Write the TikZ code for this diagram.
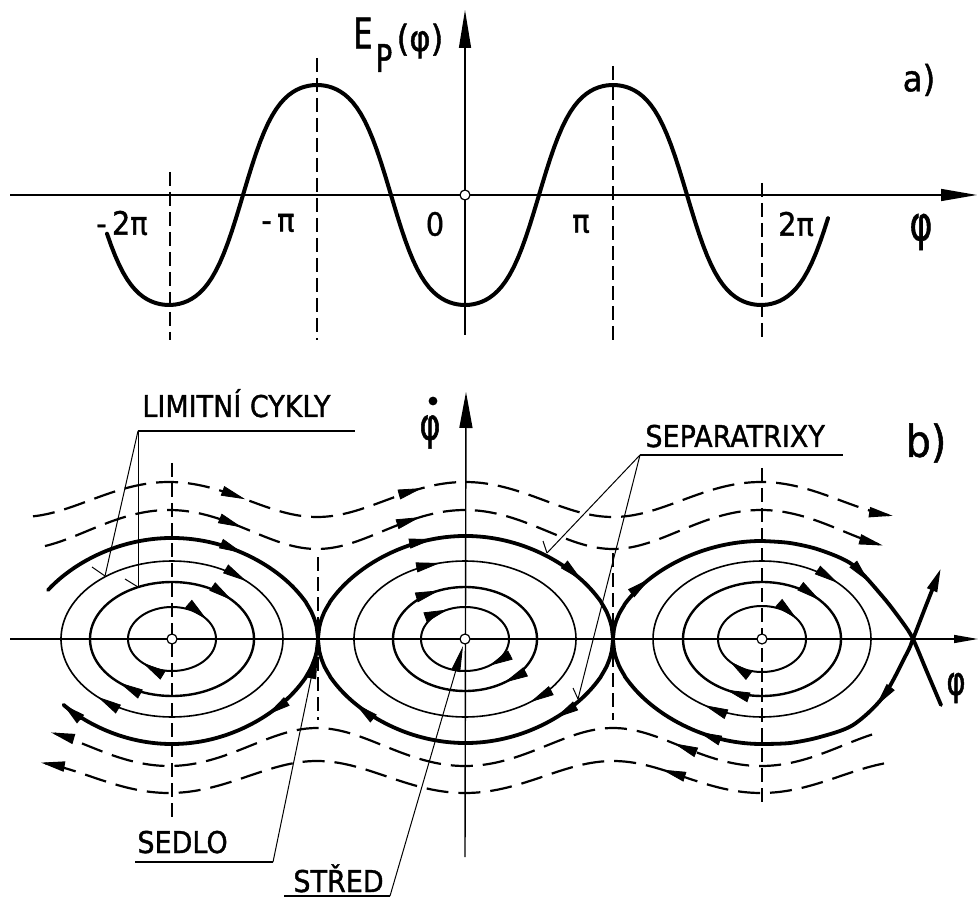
\documentclass[tikz,border=0pt]{standalone}
\usepackage{fontspec}
\setmainfont{DejaVu Sans}
\newfontfamily\lab[FakeStretch=0.9,FakeBold=1.2]{DejaVu Sans}
\newfontfamily\phif[FakeStretch=0.72,FakeBold=1.2]{DejaVu Sans}
\usetikzlibrary{arrows.meta}
\newcommand\RingArr[4]{\draw[flow] ({#1+#2*cos(#4-4)},{639+#3*sin(#4-4)}) -- ({#1+#2*cos(#4)},{639+#3*sin(#4)});}
\newcommand\SepTop[4]{\draw[flow] ({#4-1.5},{639-#3*sepf(#4-1.5,#1,#2)}) -- (#4,{639-#3*sepf(#4,#1,#2)});}
\newcommand\SepBot[4]{\draw[flow] ({#4+1.5},{639+#3*sepf(#4+1.5,#1,#2)}) -- (#4,{639+#3*sepf(#4,#1,#2)});}
\newcommand\RotTop[3]{\draw[flow] ({#3-1.5},{639-rotf(#3-1.5,#1,#2)}) -- (#3,{639-rotf(#3,#1,#2)});}
\newcommand\RotBot[3]{\draw[flow] ({#3+1.5},{639+rotf(#3+1.5,#1,#2)}) -- (#3,{639+rotf(#3,#1,#2)});}
\begin{document}
\begin{tikzpicture}[x=0.5pt,y=-0.5pt,
  declare function={
    sepf(\xa,\xc,\xw)=(max(cos((\xa-\xc)/\xw*90),0.0001))^0.5;
    rotf(\xa,\xm,\xd)=10*sqrt(\xm+\xd*cos((\xa-465)/148*180));
    thf(\xz)=1-2/(exp(2*\xz)+1);
    epf(\xa)=195+131.95*thf(1.2*cos((\xa-465)/148*180));
  },
  ax/.style={line width=0.7pt},
  vdash/.style={line width=0.7pt, dash pattern=on 7pt off 3pt},
  tcurve/.style={line width=2pt, line cap=round, line join=round},
  sepx/.style={line width=1.9pt, line cap=round, line join=round},
  ringa/.style={line width=1pt},
  ringb/.style={line width=1.2pt},
  ringc/.style={line width=0.8pt},
  dcurve/.style={line width=1.1pt, dash pattern=on 11pt off 5pt},
  endtip/.style={-{Triangle[length=12pt,width=5pt]}},
  flow/.style={endtip, solid, line width=0.4pt},
  lead/.style={line width=0.5pt},
  under/.style={line width=1pt},
  lbl/.style={inner sep=0pt, font=\lab\fontsize{16}{18}\selectfont},
  captxt/.style={inner sep=0pt, anchor=base west, font=\lab\fontsize{15}{18}\selectfont},
  ctr/.style={fill=white, draw, line width=0.6pt},
]
\useasboundingbox (0,0) rectangle (979,897);

% ---------------- panel a) ----------------
\foreach \xx/\yy in {170/172, 317/58, 613/66, 762/183}
  \draw[vdash] (\xx,\yy) -- (\xx,340);
\draw[ax, -{Triangle[length=18pt,width=6pt]}] (10,195) -- (977,195);
\draw[ax, -{Triangle[length=19pt,width=6pt]}] (465,335) -- (465,10);
\draw[tcurve] plot[domain=107:828,samples=180,variable=\x] (\x,{epf(\x)});
\draw[ctr] (465,195) circle[radius=2.5pt];

\node[lbl] (tm2) at (122,223) {-\,2π};
\node[lbl] (tm1) at (278,223) {-\,π};
\node[lbl] (t0) at (435,224) {0};
\node[lbl] (tp1) at (581,224) {π};
\node[lbl] (tp2) at (796,224) {2π};
\node[inner sep=0pt, font=\phif\fontsize{24}{26}\selectfont] (phia) at (921,232) {φ};
\node[inner sep=0pt, font=\lab\fontsize{18}{20}\selectfont] (la) at (919,80) {a)};
\node[inner sep=0pt, font=\phif\fontsize{21}{24}\selectfont] (eE) at (363,33) {E};
\node[inner sep=0pt, font=\phif\fontsize{19}{22}\selectfont] (eP) at (384,58) {P};
\node[inner sep=0pt, font=\lab\fontsize{18}{22}\selectfont] (ephi) at (420,41) {(φ)};

% ---------------- panel b) ----------------
\foreach \xx/\ya/\yb in {172/463/817, 318/557/720, 613/553/720, 762/468/808}
  \draw[vdash] (\xx,\ya) -- (\xx,\yb);
\draw[ax, -{Triangle[length=12pt,width=4pt]}] (10,639) -- (978,639);
\draw[ax, -{Triangle[length=18pt,width=6.5pt]}] (465,857) -- (466,392);

% closed orbits
\foreach \cx/\ra/\rb/\st in {172/44/32/ringa, 172/82/57/ringb, 172/111/78/ringc,
                             465/44/32/ringa, 465/72/52/ringb, 465/111/78/ringc,
                             762/44/33/ringa, 762/79/57/ringb, 762/109/78/ringc}
  \draw[\st] plot[domain=0:360,samples=120,variable=\t] ({\cx+\ra*cos(\t)},{639+\rb*sin(\t)}) -- cycle;

\RingArr{172}{44}{32}{322} \RingArr{172}{44}{32}{132}
\RingArr{172}{82}{57}{317} \RingArr{172}{82}{57}{130}
\RingArr{172}{111}{78}{312} \RingArr{172}{111}{78}{132}
\RingArr{465}{44}{32}{247} \RingArr{465}{44}{32}{57}
\RingArr{465}{72}{52}{249} \RingArr{465}{72}{52}{57}
\RingArr{465}{111}{78}{257} \RingArr{465}{111}{78}{54}
\RingArr{762}{44}{33}{322} \RingArr{762}{44}{33}{137}
\RingArr{762}{79}{57}{317} \RingArr{762}{79}{57}{117}
\RingArr{762}{109}{78}{314} \RingArr{762}{109}{78}{122}

% separatrices
\draw[sepx] plot[domain=48:318,samples=200,variable=\x] (\x,{639-101*sepf(\x,172,146)});
\draw[sepx,endtip] plot[domain=0:1,samples=200,variable=\s] ({318-256*\s},{639+105*sepf(318-256*\s,172,146)});
\draw[sepx] plot[domain=318:613,samples=240,variable=\x] (\x,{639-103*sepf(\x,465.5,147.5)});
\draw[sepx] plot[domain=318:613,samples=240,variable=\x] (\x,{639+104*sepf(\x,465.5,147.5)});
\draw[sepx] plot[domain=613:762,samples=150,variable=\x] (\x,{639-98*sepf(\x,762,149)})
  -- plot[smooth] coordinates {(762,541) (790,543) (820,550) (853,565) (883,597) (903,623) (913,639) (927,672) (941,705)};
\draw[sepx,endtip] plot[domain=613:762,samples=150,variable=\x] (\x,{639+105*sepf(\x,762,149)})
  -- plot[smooth] coordinates {(762,744) (790,743) (820,737) (853,725) (883,697) (907,653) (913,639) (927,603) (941,568)};

\SepTop{172}{146}{101}{243} \SepBot{172}{146}{105}{267}
\SepTop{465.5}{147.5}{103}{433} \SepTop{465.5}{147.5}{103}{582}
\SepBot{465.5}{147.5}{104}{555} \SepBot{465.5}{147.5}{104}{355}
\SepTop{762}{149}{98}{650} \SepBot{762}{149}{105}{698}
\draw[flow] (862,574) -- (869,582);
\draw[flow] (883,697) -- (876,706);

% rotational (dashed) trajectories
\draw[dcurve,endtip] plot[domain=33:893,samples=200,variable=\x] (\x,{639-rotf(\x,197.66,48.82)});
\draw[dcurve,endtip] plot[domain=45:883,samples=200,variable=\x] (\x,{639-rotf(\x,123.7,42.7)});
\draw[dcurve,endtip] plot[domain=0:1,samples=200,variable=\s] ({872-822*\s},{639+rotf(872-822*\s,120.25,41.04)});
\draw[dcurve,endtip] plot[domain=0:1,samples=200,variable=\s] ({884-844*\s},{639+rotf(884-844*\s,193,44.16)});
\RotTop{197.66}{48.82}{245} \RotTop{197.66}{48.82}{422}
\RotTop{123.7}{42.7}{242} \RotTop{123.7}{42.7}{420}
\RotBot{120.25}{41.04}{674} \RotBot{193}{44.16}{662}

% centres
\foreach \cx in {172,465,762}
  \draw[ctr] (\cx,639) circle[radius=2.5pt];

% axis labels
\node[inner sep=0pt, font=\phif\fontsize{22}{24}\selectfont] (phd) at (430,432) {φ};
\fill (433,401) circle[radius=2.2pt];
\node[inner sep=0pt, font=\lab\fontsize{22}{24}\selectfont] (lb) at (926,443) {b)};
\node[inner sep=0pt, font=\phif\fontsize{20}{22}\selectfont] (phib) at (956,688) {φ};

% LIMITNI CYKLY
\node[captxt] (lcy) at (142,417) {LIMITNÍ CYKLY};
\coordinate (lcA) at (138,431); \coordinate (lcB) at (355,431);
\coordinate (lc1) at (105,576); \coordinate (lc2) at (138,587);
\draw[under] (lcA) -- (lcB);
\draw[lead] (lcA) -- (lc1); \draw[lead] (lcA) -- (lc2);
\draw[lead] (lc1) -- ++(-13,-9); \draw[lead] (lc2) -- ++(-13,-8);

% SEPARATRIXY
\node[captxt] (spx) at (645,447) {SEPARATRIXY};
\coordinate (spA) at (640,455); \coordinate (spB) at (843,455);
\coordinate (sp1) at (547,553); \coordinate (sp2) at (578,699);
\draw[under] (spA) -- (spB);
\draw[lead] (spA) -- (sp1); \draw[lead] (spA) -- (sp2);
\draw[lead] (sp1) -- ++(-4,-12); \draw[lead] (sp2) -- ++(-5,-11);

% SEDLO
\node[captxt] (sdl) at (137,853) {SEDLO};
\coordinate (sdA) at (135,862); \coordinate (sdB) at (273,862);
\coordinate (sad) at (318,645);
\draw[under] (sdA) -- (sdB);
\draw[lead,-{Triangle[length=17pt,width=5pt]}] (sdB) -- (sad);

% STRED
\node[captxt] (stn) at (293,892) {STŘED};
\coordinate (stA) at (284,896); \coordinate (stB) at (390,896);
\coordinate (cen) at (463,646);
\draw[under] (stA) -- (stB);
\draw[lead,-{Triangle[length=13pt,width=4.5pt]}] (stB) -- (cen);
\end{tikzpicture}
\end{document}
